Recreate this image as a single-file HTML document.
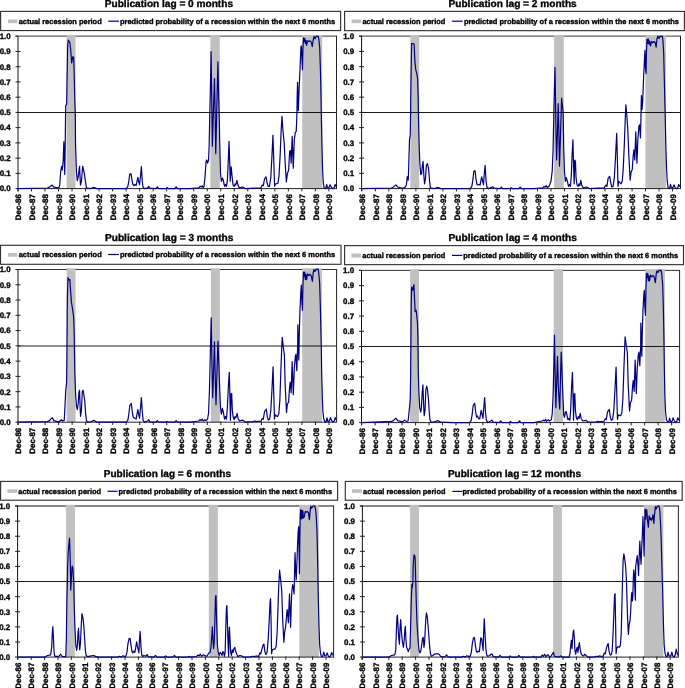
<!DOCTYPE html>
<html lang="en"><head><meta charset="utf-8"><title>Recession probability by publication lag</title>
<style>html,body{margin:0;padding:0;background:#fff}body{width:685px;height:688px;overflow:hidden}svg{display:block;text-rendering:geometricPrecision}text{font-family:"Liberation Sans", sans-serif;font-weight:bold;fill:#000;stroke:#000;stroke-width:.35px}.t{font-size:10.1px}.l{font-size:7.45px}.a{font-size:7.9px}.x{font-size:7.95px}</style></head><body>
<svg width="685" height="688" viewBox="0 0 685 688">
<rect width="685" height="688" fill="#fff"/>
<g>
<text class="t" x="104.8" y="7.2" textLength="128.2" lengthAdjust="spacingAndGlyphs">Publication lag = 0 months</text>
<rect x="0.6" y="11.4" width="340" height="19.15" fill="#fff" stroke="#333" stroke-width="1.15"/>
<rect x="7.9" y="19.5" width="9.3" height="3.7" fill="#c0c0c0"/>
<text class="l" x="18.7" y="23.75" textLength="83" lengthAdjust="spacingAndGlyphs">actual recession period</text>
<line x1="108.2" y1="21.2" x2="119" y2="21.2" stroke="#000080" stroke-width="1.2"/>
<text class="l" x="120" y="23.75" textLength="215.1" lengthAdjust="spacingAndGlyphs">predicted probability of a recession within the next 6 months</text>
<line x1="15.5" y1="36.2" x2="336.5" y2="36.2" stroke="#606060" stroke-width="1.3"/>
<rect x="66.6" y="35" width="8.9" height="153.6" fill="#c0c0c0"/>
<rect x="210.4" y="35" width="9.4" height="153.6" fill="#c0c0c0"/>
<rect x="302.2" y="35" width="20" height="153.6" fill="#c0c0c0"/>
<line x1="18" y1="112.5" x2="336.5" y2="112.5" stroke="#000" stroke-width="0.9"/>
<line x1="336.5" y1="35.7" x2="336.5" y2="189" stroke="#222" stroke-width="1"/>
<line x1="18" y1="188.6" x2="336.5" y2="188.6" stroke="#222" stroke-width="1"/>
<polyline fill="none" stroke="#000080" stroke-width="1.2" stroke-linejoin="round" points="18.1,188.6 47.53,188 49.42,187.1 52.18,185.09 53.81,187.1 58.83,188 59.71,185.09 60.72,171.28 61.59,166.26 62.35,170.03 63.23,159.99 63.85,141.78 64.73,174.42 65.24,143.66 65.61,112.28 65.74,105.56 66.62,104.31 66.99,84.22 67.62,46.55 68.25,40.03 69.88,42.79 70.76,50.32 71.64,62.88 72.89,56.6 73.65,57.23 74.15,71.66 74.9,104.31 75.28,112.72 75.53,143.66 76.41,171.28 77.29,180.7 78.29,176.31 79.55,166.26 80.43,185.09 81.43,181.33 82.69,166.26 84.19,172.54 85.45,181.33 86.45,187.8 90.22,188.6 93.99,187.39 96.5,188.6 109.68,188.6 112.51,188.6 126.32,188.6 127.83,186.35 128.83,181.33 129.71,174.05 131.09,173.8 131.97,180.07 132.85,184.47 133.85,185.72 135.11,184.47 136.11,185.35 136.99,181.33 137.87,177.31 138.62,181.33 139.5,184.84 140.51,176.31 141.39,166.51 142.27,181.33 143.02,186.98 144.53,188.6 147.66,187.8 148.67,186.35 149.92,188.21 155.82,188.6 157.33,186.98 158.71,188.6 165.87,188.6 167.12,187.39 168.38,188.6 174.66,188.6 176.16,186.98 177.54,188.6 189.09,188.6 190,188.6 198.79,187.8 200.04,186.35 201.3,186.98 202.18,185.72 203.18,187.8 204.06,186.35 205.07,176.31 206.07,161.24 206.7,159.99 207.58,163.12 208.58,159.99 209.21,143.66 209.84,112.28 210.46,84.22 211.09,51.58 211.72,96.77 212.35,146.18 213.35,112.28 214.48,78.57 215.11,112.28 215.74,153.71 216.74,112.28 217.87,61.87 218.62,96.77 219.13,112.28 219.75,143.66 220.51,173.8 221.39,181.33 222.39,178.19 223.27,180.07 224.53,186.35 225.53,184.47 226.41,186.35 227.29,181.33 228.04,166.26 229.05,141.4 229.92,168.77 230.18,181.33 231.18,166.89 232.06,176.31 233.06,185.09 234.19,186.35 234.95,183.84 235.82,185.09 236.95,180.32 237.96,185.09 239.21,187.8 242.73,186.98 245.24,188.6 255.28,188.21 256,188.21 261.02,187.8 262.28,185.09 263.28,185.72 264.54,178.82 266.04,176.93 267.05,182.58 268.18,186.35 269.43,186.35 270.81,177.56 271.94,156.22 272.95,135.13 273.83,162.5 274.58,186.35 275.46,183.84 276.72,183.59 277.97,183.21 278.98,176.31 280.11,156.22 281.11,131.11 281.99,116.29 282.99,131.11 284.25,143.66 285.13,162.5 286.38,181.96 287.39,173.8 288.64,170.03 289.65,151.2 290.53,150.57 291.15,163.12 292.16,136.38 293.29,168.15 294.29,139.9 295.3,132.36 296.18,131.74 296.68,121.07 296.93,112.28 297.18,96.77 297.56,82.34 298.31,110.58 299.31,84.22 300.19,65.39 300.95,46.55 301.45,45.93 301.95,59.11 302.45,69.78 302.95,49.07 303.46,37.77 304.08,41.53 304.71,38.39 305.34,43.42 305.97,40.28 306.6,45.3 307.47,40.91 308.73,41.53 309.99,40.91 311.24,42.16 312.25,46.55 313.12,40.28 314,36.26 315.13,38.77 316.26,36.13 317.14,36.51 318.15,36.13 318.77,39.02 319.65,46.55 320.28,65.39 320.78,84.22 321.28,112.72 321.91,143.66 322.54,168.77 323.17,181.33 324.05,187.8 325.68,188.6 326.68,184.47 327.56,187.8 328.82,187.8 330.07,184.84 331.08,186.98 332.58,188.6 334.09,187.8 335.09,184.47 336.1,186.35 336.73,186.35"/>
<line x1="18" y1="35.7" x2="18" y2="191.2" stroke="#333" stroke-width="1.15"/>
<text class="a" x="10.6" y="191.45" text-anchor="end">0.0</text>
<text class="a" x="10.6" y="176.21" text-anchor="end">0.1</text>
<text class="a" x="10.6" y="160.97" text-anchor="end">0.2</text>
<text class="a" x="10.6" y="145.73" text-anchor="end">0.3</text>
<text class="a" x="10.6" y="130.49" text-anchor="end">0.4</text>
<text class="a" x="10.6" y="115.25" text-anchor="end">0.5</text>
<text class="a" x="10.6" y="100.01" text-anchor="end">0.6</text>
<text class="a" x="10.6" y="84.77" text-anchor="end">0.7</text>
<text class="a" x="10.6" y="69.53" text-anchor="end">0.8</text>
<text class="a" x="10.6" y="54.29" text-anchor="end">0.9</text>
<text class="a" x="10.6" y="39.05" text-anchor="end">1.0</text>
<text class="x" text-anchor="end" transform="translate(21.2 194.1) rotate(-90)">Dec-86</text>
<text class="x" text-anchor="end" transform="translate(34.72 194.1) rotate(-90)">Dec-87</text>
<text class="x" text-anchor="end" transform="translate(48.24 194.1) rotate(-90)">Dec-88</text>
<text class="x" text-anchor="end" transform="translate(61.76 194.1) rotate(-90)">Dec-89</text>
<text class="x" text-anchor="end" transform="translate(75.28 194.1) rotate(-90)">Dec-90</text>
<text class="x" text-anchor="end" transform="translate(88.8 194.1) rotate(-90)">Dec-91</text>
<text class="x" text-anchor="end" transform="translate(102.32 194.1) rotate(-90)">Dec-92</text>
<text class="x" text-anchor="end" transform="translate(115.84 194.1) rotate(-90)">Dec-93</text>
<text class="x" text-anchor="end" transform="translate(129.36 194.1) rotate(-90)">Dec-94</text>
<text class="x" text-anchor="end" transform="translate(142.88 194.1) rotate(-90)">Dec-95</text>
<text class="x" text-anchor="end" transform="translate(156.4 194.1) rotate(-90)">Dec-96</text>
<text class="x" text-anchor="end" transform="translate(169.92 194.1) rotate(-90)">Dec-97</text>
<text class="x" text-anchor="end" transform="translate(183.44 194.1) rotate(-90)">Dec-98</text>
<text class="x" text-anchor="end" transform="translate(196.96 194.1) rotate(-90)">Dec-99</text>
<text class="x" text-anchor="end" transform="translate(210.48 194.1) rotate(-90)">Dec-00</text>
<text class="x" text-anchor="end" transform="translate(224 194.1) rotate(-90)">Dec-01</text>
<text class="x" text-anchor="end" transform="translate(237.52 194.1) rotate(-90)">Dec-02</text>
<text class="x" text-anchor="end" transform="translate(251.04 194.1) rotate(-90)">Dec-03</text>
<text class="x" text-anchor="end" transform="translate(264.56 194.1) rotate(-90)">Dec-04</text>
<text class="x" text-anchor="end" transform="translate(278.08 194.1) rotate(-90)">Dec-05</text>
<text class="x" text-anchor="end" transform="translate(291.6 194.1) rotate(-90)">Dec-06</text>
<text class="x" text-anchor="end" transform="translate(305.12 194.1) rotate(-90)">Dec-07</text>
<text class="x" text-anchor="end" transform="translate(318.64 194.1) rotate(-90)">Dec-08</text>
<text class="x" text-anchor="end" transform="translate(332.16 194.1) rotate(-90)">Dec-09</text>
<path d="M15.5 188.6H18M15.5 173.36H20.5M15.5 158.12H20.5M15.5 142.88H20.5M15.5 127.64H20.5M15.5 112.4H20.5M15.5 97.16H20.5M15.5 81.92H20.5M15.5 66.68H20.5M15.5 51.44H20.5M15.5 36.2H18M17.95 188V191.4M31.47 188V191.4M44.99 188V191.4M58.51 188V191.4M72.03 188V191.4M85.55 188V191.4M99.07 188V191.4M112.59 188V191.4M126.11 188V191.4M139.63 188V191.4M153.15 188V191.4M166.67 188V191.4M180.19 188V191.4M193.71 188V191.4M207.23 188V191.4M220.75 188V191.4M234.27 188V191.4M247.79 188V191.4M261.31 188V191.4M274.83 188V191.4M288.35 188V191.4M301.87 188V191.4M315.39 188V191.4M328.91 188V191.4" stroke="#222" stroke-width="1" fill="none"/>
</g>
<g>
<text class="t" x="448.5" y="7.2" textLength="128.2" lengthAdjust="spacingAndGlyphs">Publication lag = 2 months</text>
<rect x="344.6" y="11.4" width="339.8" height="19.25" fill="#fff" stroke="#333" stroke-width="1.15"/>
<rect x="351.6" y="19.5" width="9.3" height="3.7" fill="#c0c0c0"/>
<text class="l" x="362.4" y="23.75" textLength="83" lengthAdjust="spacingAndGlyphs">actual recession period</text>
<line x1="451.9" y1="21.2" x2="462.7" y2="21.2" stroke="#000080" stroke-width="1.2"/>
<text class="l" x="463.9" y="23.75" textLength="215.1" lengthAdjust="spacingAndGlyphs">predicted probability of a recession within the next 6 months</text>
<line x1="359.1" y1="36.2" x2="680.5" y2="36.2" stroke="#606060" stroke-width="1.3"/>
<rect x="410.4" y="35" width="8.8" height="153.6" fill="#c0c0c0"/>
<rect x="554.1" y="35" width="9.7" height="153.6" fill="#c0c0c0"/>
<rect x="645.4" y="35" width="20.5" height="153.6" fill="#c0c0c0"/>
<line x1="361.6" y1="112.5" x2="680.5" y2="112.5" stroke="#000" stroke-width="0.9"/>
<line x1="680.5" y1="35.7" x2="680.5" y2="189" stroke="#222" stroke-width="1"/>
<line x1="361.6" y1="188.6" x2="680.5" y2="188.6" stroke="#222" stroke-width="1"/>
<polyline fill="none" stroke="#000080" stroke-width="1.2" stroke-linejoin="round" points="361.7,188.6 391.53,188 393.42,186.98 395.93,184.84 397.56,186.98 402.83,188.21 405.34,186.98 406.35,185.09 407.23,176.93 407.85,176.31 408.23,180.07 408.73,166.26 409.49,139.9 410.24,134.88 410.62,112.28 410.74,96.77 411.12,71.66 411.62,43.42 414.13,44.04 414.76,59.11 415.64,69.15 416.89,74.18 417.65,79.2 418.15,96.77 418.4,112.72 418.9,137.39 419.78,162.5 420.79,174.42 421.66,173.8 422.42,165.01 423.05,161.24 423.92,176.31 424.55,183.84 425.43,178.82 426.44,165.01 427.56,163.75 428.57,168.77 429.45,180.07 430.45,187.8 434.22,188.6 437.99,187.39 440.5,188.6 453.68,188.6 456.51,188.6 470.32,188.6 471.83,186.35 472.83,180.07 473.84,171.28 475.09,170.66 475.97,178.82 476.98,184.47 478.11,185.09 479.11,184.47 480.11,185.09 480.99,180.07 481.75,176.93 482.62,181.33 483.5,184.84 484.26,173.8 485.14,165.26 486.01,180.07 486.89,186.98 488.53,188.6 491.66,187.39 492.67,186.6 493.92,188.21 499.82,188.6 501.33,187.23 502.71,188.6 509.87,188.6 511.12,187.8 512.38,188.6 518.66,188.6 520.16,187.23 521.54,188.6 533.09,188.6 534,188.6 542.79,187.8 544.04,186.35 545.05,187.23 546.18,185.72 547.18,187.39 549.07,186.35 550.95,181.33 552.2,171.28 553.08,149.94 553.84,112.28 554.34,90.5 554.97,67.27 555.47,96.77 555.97,131.11 556.6,159.99 557.48,131.11 558.23,103.68 558.86,131.11 559.49,166.26 560.62,131.11 561.62,98.03 563.13,112.28 563.75,149.94 564.51,172.54 565.39,181.33 566.27,177.56 567.27,180.7 568.53,186.35 569.53,184.47 570.41,186.35 571.29,176.31 572.04,156.22 572.92,139.9 573.67,168.77 574.18,183.84 574.8,159.99 575.43,161.24 576.06,177.56 577.06,185.09 578.19,186.35 578.95,183.84 579.82,185.72 580.83,180.32 581.71,185.09 583.21,187.8 586.73,186.98 589.24,188.6 598.66,188.21 599,188.21 604.02,187.8 605.91,185.09 606.91,186.35 608.16,178.19 609.67,176.31 610.68,182.58 611.81,186.98 613.06,186.35 614.32,177.56 615.57,156.22 616.7,133.37 617.46,162.5 617.96,186.35 618.71,181.33 619.97,182.58 620.97,183.84 622.23,181.33 623.23,168.77 624.36,143.66 625.36,116.04 625.87,104.74 626.87,116.04 627.88,131.11 628.88,156.22 630.14,180.07 631.01,172.54 632.27,169.4 633.15,156.22 633.9,149.94 634.78,159.99 635.79,131.74 636.92,163.12 637.92,138.64 638.92,126.09 639.55,124.83 640.43,138.01 640.81,124.83 641.06,112.28 641.18,104.31 641.44,95.52 642.06,109.33 642.69,101.8 643.57,77.94 644.45,59.11 644.95,50.32 645.45,67.9 646.08,73.55 646.46,51.58 647.08,39.02 647.71,43.42 648.34,39.02 648.97,44.04 649.6,40.91 650.47,45.93 651.48,41.53 652.73,42.79 653.99,41.53 655.25,42.79 656.12,47.18 657,39.02 657.76,36.13 659.01,38.39 660.14,36.13 661.4,36.51 662.4,36.13 663.03,41.53 663.66,52.83 664.28,77.94 664.91,104.31 665.16,112.72 665.79,143.66 666.54,168.77 667.17,180.07 668.05,187.8 669.31,188.6 670.56,184.47 671.44,187.8 672.82,187.8 673.95,184.84 674.96,187.39 676.21,188.6 677.72,187.8 678.72,184.47 679.73,186.35 680.61,185.72"/>
<line x1="361.6" y1="35.7" x2="361.6" y2="191.2" stroke="#111" stroke-width="1"/>
<text class="a" x="354.2" y="191.45" text-anchor="end">0.0</text>
<text class="a" x="354.2" y="176.21" text-anchor="end">0.1</text>
<text class="a" x="354.2" y="160.97" text-anchor="end">0.2</text>
<text class="a" x="354.2" y="145.73" text-anchor="end">0.3</text>
<text class="a" x="354.2" y="130.49" text-anchor="end">0.4</text>
<text class="a" x="354.2" y="115.25" text-anchor="end">0.5</text>
<text class="a" x="354.2" y="100.01" text-anchor="end">0.6</text>
<text class="a" x="354.2" y="84.77" text-anchor="end">0.7</text>
<text class="a" x="354.2" y="69.53" text-anchor="end">0.8</text>
<text class="a" x="354.2" y="54.29" text-anchor="end">0.9</text>
<text class="a" x="354.2" y="39.05" text-anchor="end">1.0</text>
<text class="x" text-anchor="end" transform="translate(365.1 194.1) rotate(-90)">Dec-86</text>
<text class="x" text-anchor="end" transform="translate(378.61 194.1) rotate(-90)">Dec-87</text>
<text class="x" text-anchor="end" transform="translate(392.12 194.1) rotate(-90)">Dec-88</text>
<text class="x" text-anchor="end" transform="translate(405.63 194.1) rotate(-90)">Dec-89</text>
<text class="x" text-anchor="end" transform="translate(419.14 194.1) rotate(-90)">Dec-90</text>
<text class="x" text-anchor="end" transform="translate(432.65 194.1) rotate(-90)">Dec-91</text>
<text class="x" text-anchor="end" transform="translate(446.16 194.1) rotate(-90)">Dec-92</text>
<text class="x" text-anchor="end" transform="translate(459.67 194.1) rotate(-90)">Dec-93</text>
<text class="x" text-anchor="end" transform="translate(473.18 194.1) rotate(-90)">Dec-94</text>
<text class="x" text-anchor="end" transform="translate(486.69 194.1) rotate(-90)">Dec-95</text>
<text class="x" text-anchor="end" transform="translate(500.2 194.1) rotate(-90)">Dec-96</text>
<text class="x" text-anchor="end" transform="translate(513.71 194.1) rotate(-90)">Dec-97</text>
<text class="x" text-anchor="end" transform="translate(527.22 194.1) rotate(-90)">Dec-98</text>
<text class="x" text-anchor="end" transform="translate(540.73 194.1) rotate(-90)">Dec-99</text>
<text class="x" text-anchor="end" transform="translate(554.24 194.1) rotate(-90)">Dec-00</text>
<text class="x" text-anchor="end" transform="translate(567.75 194.1) rotate(-90)">Dec-01</text>
<text class="x" text-anchor="end" transform="translate(581.26 194.1) rotate(-90)">Dec-02</text>
<text class="x" text-anchor="end" transform="translate(594.77 194.1) rotate(-90)">Dec-03</text>
<text class="x" text-anchor="end" transform="translate(608.28 194.1) rotate(-90)">Dec-04</text>
<text class="x" text-anchor="end" transform="translate(621.79 194.1) rotate(-90)">Dec-05</text>
<text class="x" text-anchor="end" transform="translate(635.3 194.1) rotate(-90)">Dec-06</text>
<text class="x" text-anchor="end" transform="translate(648.81 194.1) rotate(-90)">Dec-07</text>
<text class="x" text-anchor="end" transform="translate(662.32 194.1) rotate(-90)">Dec-08</text>
<text class="x" text-anchor="end" transform="translate(675.83 194.1) rotate(-90)">Dec-09</text>
<path d="M359.1 188.6H361.6M359.1 173.36H364.1M359.1 158.12H364.1M359.1 142.88H364.1M359.1 127.64H364.1M359.1 112.4H364.1M359.1 97.16H364.1M359.1 81.92H364.1M359.1 66.68H364.1M359.1 51.44H364.1M359.1 36.2H361.6M361.85 188V191.4M375.36 188V191.4M388.87 188V191.4M402.38 188V191.4M415.89 188V191.4M429.4 188V191.4M442.91 188V191.4M456.42 188V191.4M469.93 188V191.4M483.44 188V191.4M496.95 188V191.4M510.46 188V191.4M523.97 188V191.4M537.48 188V191.4M550.99 188V191.4M564.5 188V191.4M578.01 188V191.4M591.52 188V191.4M605.03 188V191.4M618.54 188V191.4M632.05 188V191.4M645.56 188V191.4M659.07 188V191.4M672.58 188V191.4" stroke="#222" stroke-width="1" fill="none"/>
</g>
<g>
<text class="t" x="105" y="240.6" textLength="128.3" lengthAdjust="spacingAndGlyphs">Publication lag = 3 months</text>
<rect x="0.5" y="245.3" width="340.5" height="19" fill="#fff" stroke="#333" stroke-width="1.15"/>
<rect x="7.9" y="252.9" width="9.3" height="3.8" fill="#c0c0c0"/>
<text class="l" x="18.7" y="257" textLength="83" lengthAdjust="spacingAndGlyphs">actual recession period</text>
<line x1="108.2" y1="254.5" x2="119" y2="254.5" stroke="#000080" stroke-width="1.2"/>
<text class="l" x="120" y="257" textLength="215.2" lengthAdjust="spacingAndGlyphs">predicted probability of a recession within the next 6 months</text>
<line x1="15.5" y1="269.5" x2="336.6" y2="269.5" stroke="#333" stroke-width="1"/>
<rect x="66.6" y="268.3" width="8.9" height="153.9" fill="#c0c0c0"/>
<rect x="210.9" y="268.3" width="9" height="153.9" fill="#c0c0c0"/>
<rect x="302.2" y="268.3" width="19.7" height="153.9" fill="#c0c0c0"/>
<line x1="18" y1="346" x2="336.6" y2="346" stroke="#000" stroke-width="0.9"/>
<line x1="336.6" y1="269" x2="336.6" y2="422.6" stroke="#222" stroke-width="1"/>
<line x1="18" y1="422.2" x2="336.6" y2="422.2" stroke="#222" stroke-width="1"/>
<polyline fill="none" stroke="#000080" stroke-width="1.2" stroke-linejoin="round" points="18.2,422.2 47.53,421.64 49.42,420.6 52.18,417.59 53.81,420.6 58.83,422.05 61.34,419.72 62.6,421.03 64.23,420.35 64.86,409.05 65.74,390.22 66.62,382.69 66.99,346.28 67.12,329.77 67.37,298.39 68,277.67 68.88,280.18 69.88,279.55 70.51,289.6 71.39,302.15 72.64,309.69 73.65,317.22 74.15,332.28 74.4,346.09 74.78,371.39 75.53,392.73 76.41,405.28 77.29,409.68 78.29,402.77 78.92,392.73 79.55,390.22 80.18,409.05 80.55,416.33 81.43,410.31 82.31,391.47 83.06,390.22 83.94,395.24 84.82,401.52 85.57,412.82 86.45,420.35 87.46,422.2 90.22,422.05 93.99,420.35 96.5,422.05 109.68,422.2 112.51,422.2 126.32,422.2 127.83,420.35 128.83,414.07 129.84,405.28 131.34,403.4 132.22,411.56 133.23,417.21 134.23,417.84 135.11,418.47 136.11,419.09 136.99,414.07 137.87,409.68 138.62,414.07 139.5,418.47 140.51,407.8 141.39,397.5 142.27,411.56 143.14,420.35 144.53,422.2 147.66,421.03 148.67,419.72 149.92,422.05 155.82,422.2 157.33,420.6 158.71,422.2 165.87,422.2 167.12,421.43 168.38,422.2 174.66,422.2 176.16,420.6 177.54,422.2 189.09,422.2 190,422.2 198.79,421.03 200.04,419.72 201.05,420.6 202.18,419.09 203.18,421.03 205.07,419.72 206.07,420.6 207.58,419.09 208.58,412.82 209.46,390.22 210.34,352.55 211.22,317.78 211.97,365.11 212.72,397.75 213.6,371.39 214.48,341.88 215.11,371.39 215.99,404.66 216.99,371.39 218,341 218.88,365.11 219.75,390.22 220.51,407.8 221.39,414.07 222.39,408.42 223.27,411.56 224.53,419.09 225.53,416.58 226.41,419.09 227.29,409.05 228.29,387.71 229.3,372.39 229.92,396.5 230.43,420.35 231.05,393.99 231.68,393.36 232.31,410.31 233.31,417.84 234.19,419.72 234.95,416.58 235.82,417.84 237.08,413.45 238.08,418.47 239.59,421.03 242.73,420.1 245.24,422.05 252.77,421.64 255.28,421.03 256,421.64 261.02,421.03 262.28,418.47 263.28,419.35 264.54,411.56 266.29,409.05 267.3,416.58 268.3,420.1 269.56,419.35 270.81,410.31 271.94,390.22 273.07,366.74 273.83,396.5 274.46,419.09 275.21,414.7 276.46,415.96 277.59,416.58 278.85,413.45 279.85,400.26 280.86,371.39 281.74,347.53 282.24,337.24 283.37,347.53 284.37,355.07 285.13,383.94 286.51,412.57 287.39,404.03 288.64,402.15 289.52,387.71 290.27,382.06 291.15,392.73 292.16,361.59 293.29,394.61 294.29,368.88 295.3,356.32 295.92,354.44 296.8,370.76 297.43,352.55 297.68,345.9 297.81,324.75 298.81,360.03 299.44,327.26 299.94,310.94 300.82,292.11 301.32,285.2 301.95,303.41 302.45,310.31 302.95,285.83 303.46,272.02 304.08,276.42 304.71,272.02 305.34,279.55 305.97,274.53 306.6,279.55 307.47,273.91 308.73,275.54 309.99,274.28 311.24,275.79 312.37,281.44 313.12,273.28 313.88,269.51 315.01,271.39 316.01,269.13 317.14,269.51 318.15,269.13 318.77,273.28 319.65,283.32 320.28,304.66 320.91,329.77 321.28,346.09 321.66,371.39 322.29,396.5 322.92,411.56 323.8,419.09 324.8,421.64 326.06,422.05 327.06,417.84 327.94,421.64 329.45,421.03 330.45,417.59 331.58,420.35 332.84,422.2 334.22,421.03 335.22,417.59 336.1,419.72 336.73,419.72"/>
<line x1="18" y1="269" x2="18" y2="424.8" stroke="#333" stroke-width="1.15"/>
<text class="a" x="10.6" y="425.05" text-anchor="end">0.0</text>
<text class="a" x="10.6" y="409.78" text-anchor="end">0.1</text>
<text class="a" x="10.6" y="394.51" text-anchor="end">0.2</text>
<text class="a" x="10.6" y="379.24" text-anchor="end">0.3</text>
<text class="a" x="10.6" y="363.97" text-anchor="end">0.4</text>
<text class="a" x="10.6" y="348.7" text-anchor="end">0.5</text>
<text class="a" x="10.6" y="333.43" text-anchor="end">0.6</text>
<text class="a" x="10.6" y="318.16" text-anchor="end">0.7</text>
<text class="a" x="10.6" y="302.89" text-anchor="end">0.8</text>
<text class="a" x="10.6" y="287.62" text-anchor="end">0.9</text>
<text class="a" x="10.6" y="272.35" text-anchor="end">1.0</text>
<text class="x" text-anchor="end" transform="translate(21.3 427.7) rotate(-90)">Dec-86</text>
<text class="x" text-anchor="end" transform="translate(34.82 427.7) rotate(-90)">Dec-87</text>
<text class="x" text-anchor="end" transform="translate(48.34 427.7) rotate(-90)">Dec-88</text>
<text class="x" text-anchor="end" transform="translate(61.86 427.7) rotate(-90)">Dec-89</text>
<text class="x" text-anchor="end" transform="translate(75.38 427.7) rotate(-90)">Dec-90</text>
<text class="x" text-anchor="end" transform="translate(88.9 427.7) rotate(-90)">Dec-91</text>
<text class="x" text-anchor="end" transform="translate(102.42 427.7) rotate(-90)">Dec-92</text>
<text class="x" text-anchor="end" transform="translate(115.94 427.7) rotate(-90)">Dec-93</text>
<text class="x" text-anchor="end" transform="translate(129.46 427.7) rotate(-90)">Dec-94</text>
<text class="x" text-anchor="end" transform="translate(142.98 427.7) rotate(-90)">Dec-95</text>
<text class="x" text-anchor="end" transform="translate(156.5 427.7) rotate(-90)">Dec-96</text>
<text class="x" text-anchor="end" transform="translate(170.02 427.7) rotate(-90)">Dec-97</text>
<text class="x" text-anchor="end" transform="translate(183.54 427.7) rotate(-90)">Dec-98</text>
<text class="x" text-anchor="end" transform="translate(197.06 427.7) rotate(-90)">Dec-99</text>
<text class="x" text-anchor="end" transform="translate(210.58 427.7) rotate(-90)">Dec-00</text>
<text class="x" text-anchor="end" transform="translate(224.1 427.7) rotate(-90)">Dec-01</text>
<text class="x" text-anchor="end" transform="translate(237.62 427.7) rotate(-90)">Dec-02</text>
<text class="x" text-anchor="end" transform="translate(251.14 427.7) rotate(-90)">Dec-03</text>
<text class="x" text-anchor="end" transform="translate(264.66 427.7) rotate(-90)">Dec-04</text>
<text class="x" text-anchor="end" transform="translate(278.18 427.7) rotate(-90)">Dec-05</text>
<text class="x" text-anchor="end" transform="translate(291.7 427.7) rotate(-90)">Dec-06</text>
<text class="x" text-anchor="end" transform="translate(305.22 427.7) rotate(-90)">Dec-07</text>
<text class="x" text-anchor="end" transform="translate(318.74 427.7) rotate(-90)">Dec-08</text>
<text class="x" text-anchor="end" transform="translate(332.26 427.7) rotate(-90)">Dec-09</text>
<path d="M15.5 422.2H18M15.5 406.93H20.5M15.5 391.66H20.5M15.5 376.39H20.5M15.5 361.12H20.5M15.5 345.85H20.5M15.5 330.58H20.5M15.5 315.31H20.5M15.5 300.04H20.5M15.5 284.77H20.5M15.5 269.5H18M18.05 421.6V425M31.57 421.6V425M45.09 421.6V425M58.61 421.6V425M72.13 421.6V425M85.65 421.6V425M99.17 421.6V425M112.69 421.6V425M126.21 421.6V425M139.73 421.6V425M153.25 421.6V425M166.77 421.6V425M180.29 421.6V425M193.81 421.6V425M207.33 421.6V425M220.85 421.6V425M234.37 421.6V425M247.89 421.6V425M261.41 421.6V425M274.93 421.6V425M288.45 421.6V425M301.97 421.6V425M315.49 421.6V425M329.01 421.6V425" stroke="#222" stroke-width="1" fill="none"/>
</g>
<g>
<text class="t" x="448.6" y="241.3" textLength="128.3" lengthAdjust="spacingAndGlyphs">Publication lag = 4 months</text>
<rect x="344.6" y="245.6" width="338.9" height="19.05" fill="#fff" stroke="#333" stroke-width="1.15"/>
<rect x="351.4" y="253.5" width="9.6" height="4" fill="#c0c0c0"/>
<text class="l" x="362.3" y="257.7" textLength="83" lengthAdjust="spacingAndGlyphs">actual recession period</text>
<line x1="452" y1="255.4" x2="462.4" y2="255.4" stroke="#000080" stroke-width="1.2"/>
<text class="l" x="463.2" y="257.7" textLength="215" lengthAdjust="spacingAndGlyphs">predicted probability of a recession within the next 6 months</text>
<line x1="359" y1="270.4" x2="679.6" y2="270.4" stroke="#333" stroke-width="1"/>
<rect x="410.1" y="269.2" width="8.8" height="153.4" fill="#c0c0c0"/>
<rect x="553.7" y="269.2" width="9.4" height="153.4" fill="#c0c0c0"/>
<rect x="645.2" y="269.2" width="19.7" height="153.4" fill="#c0c0c0"/>
<line x1="361.5" y1="346.5" x2="679.6" y2="346.5" stroke="#000" stroke-width="0.9"/>
<line x1="679.6" y1="269.9" x2="679.6" y2="423" stroke="#222" stroke-width="1"/>
<line x1="361.5" y1="422.6" x2="679.6" y2="422.6" stroke="#222" stroke-width="1"/>
<polyline fill="none" stroke="#000080" stroke-width="1.2" stroke-linejoin="round" points="361.7,422.6 391.53,421.39 393.42,420.6 395.93,418.09 397.56,420.6 402.83,421.8 404.72,420.1 406.35,421.39 408.11,420.98 408.86,414.07 409.74,405.28 410.24,399.01 410.62,377.66 410.87,346.28 410.99,329.77 411.24,304.66 411.62,287.09 412.62,290.23 413.88,284.58 414.51,298.39 415.14,311.57 416.14,310.31 416.89,317.22 417.52,323.5 417.9,337.31 418.02,346.47 418.27,371.39 418.9,392.73 419.78,407.8 420.66,412.19 421.41,407.8 422.17,392.73 422.92,384.82 423.55,402.77 424.18,415.71 425.05,410.31 425.81,390.22 426.69,386.2 427.56,390.22 428.44,399.01 429.2,411.56 429.95,419.72 431.08,422.21 434.22,421.8 437.99,420.6 440.5,422.21 453.68,422.6 455.88,422.6 469.69,422.6 471.2,420.35 472.2,414.07 473.21,405.28 474.72,403.4 475.59,411.56 476.6,417.21 477.48,415.96 478.48,418.47 479.74,418.84 480.49,414.07 481.24,410.31 482.12,414.7 483,418.47 483.75,407.8 484.63,397.5 485.51,412.19 486.39,420.35 487.9,422.6 490.79,420.98 492.04,420.1 493.3,422.21 499.2,422.6 500.7,420.98 502.08,422.6 509.24,422.6 510.5,421.39 511.75,422.6 518.03,422.6 519.54,420.98 520.92,422.6 533.09,422.6 534,422.6 542.16,420.98 543.42,420.1 544.42,420.98 545.55,419.35 546.55,421.39 548.44,419.72 549.44,420.98 551.33,419.72 552.2,414.07 553.08,396.5 553.84,365.11 554.46,334.98 555.09,371.39 555.85,407.8 556.6,383.94 557.48,356.32 558.23,383.94 558.86,396.5 559.74,409.05 560.49,377.66 561.24,352.18 562,371.39 562.88,396.5 563.75,415.33 564.51,417.21 565.39,412.19 566.27,411.56 567.02,415.33 567.9,419.72 568.9,418.47 569.78,420.35 570.66,410.31 571.54,387.71 572.42,372.39 573.05,396.5 573.55,420.35 574.18,393.99 574.8,393.73 575.43,410.31 576.44,418.47 577.44,419.72 578.19,416.58 579.2,418.47 580.2,413.45 581.21,418.47 582.71,420.98 585.85,420.35 588.36,422.21 596.15,421.8 598.66,421.23 599,421.8 604.02,421.23 605.28,418.72 606.28,419.6 607.54,411.81 609.29,409.3 610.3,416.84 611.3,420.35 612.56,419.6 613.81,410.31 614.94,390.22 616.07,366.99 616.83,396.5 617.46,419.35 618.21,414.95 619.46,415.33 620.59,415.71 621.85,412.82 622.85,399.01 623.86,370.13 624.74,346.28 625.11,336.74 626.37,346.28 627.37,352.55 628.13,382.69 629.51,410.93 630.39,402.77 631.64,400.26 632.52,386.45 633.27,380.43 634.15,391.47 635.16,360.09 636.29,393.36 637.29,367.62 638.3,355.07 638.92,352.18 639.8,365.74 640.43,351.3 640.68,346.28 640.81,323.12 641.81,356.26 642.44,327.26 642.94,310.94 643.82,294.62 644.32,290.23 644.95,308.43 645.45,315.34 645.95,289.6 646.46,273.28 647.08,277.67 647.71,273.28 648.34,280.81 648.97,275.79 649.6,280.81 650.47,275.16 651.73,276.79 652.99,275.54 654.24,277.04 655.37,282.69 656.12,274.53 656.88,270.77 658.01,272.65 659.01,270.14 660.14,270.77 661.15,270.14 661.77,274.53 662.65,284.58 663.28,304.66 663.78,329.77 664.03,346.47 664.41,371.39 664.91,396.5 665.54,411.56 666.42,419.72 667.42,421.8 668.68,422.21 669.68,418.09 670.56,421.8 672.07,421.23 673.07,417.84 674.2,420.6 675.46,422.6 676.84,421.23 677.84,417.84 678.72,419.97 679.73,419.97"/>
<line x1="361.5" y1="269.9" x2="361.5" y2="425.2" stroke="#111" stroke-width="1"/>
<text class="a" x="354.1" y="425.45" text-anchor="end">0.0</text>
<text class="a" x="354.1" y="410.23" text-anchor="end">0.1</text>
<text class="a" x="354.1" y="395.01" text-anchor="end">0.2</text>
<text class="a" x="354.1" y="379.79" text-anchor="end">0.3</text>
<text class="a" x="354.1" y="364.57" text-anchor="end">0.4</text>
<text class="a" x="354.1" y="349.35" text-anchor="end">0.5</text>
<text class="a" x="354.1" y="334.13" text-anchor="end">0.6</text>
<text class="a" x="354.1" y="318.91" text-anchor="end">0.7</text>
<text class="a" x="354.1" y="303.69" text-anchor="end">0.8</text>
<text class="a" x="354.1" y="288.47" text-anchor="end">0.9</text>
<text class="a" x="354.1" y="273.25" text-anchor="end">1.0</text>
<text class="x" text-anchor="end" transform="translate(364.9 428.1) rotate(-90)">Dec-86</text>
<text class="x" text-anchor="end" transform="translate(378.38 428.1) rotate(-90)">Dec-87</text>
<text class="x" text-anchor="end" transform="translate(391.85 428.1) rotate(-90)">Dec-88</text>
<text class="x" text-anchor="end" transform="translate(405.33 428.1) rotate(-90)">Dec-89</text>
<text class="x" text-anchor="end" transform="translate(418.8 428.1) rotate(-90)">Dec-90</text>
<text class="x" text-anchor="end" transform="translate(432.28 428.1) rotate(-90)">Dec-91</text>
<text class="x" text-anchor="end" transform="translate(445.76 428.1) rotate(-90)">Dec-92</text>
<text class="x" text-anchor="end" transform="translate(459.23 428.1) rotate(-90)">Dec-93</text>
<text class="x" text-anchor="end" transform="translate(472.71 428.1) rotate(-90)">Dec-94</text>
<text class="x" text-anchor="end" transform="translate(486.18 428.1) rotate(-90)">Dec-95</text>
<text class="x" text-anchor="end" transform="translate(499.66 428.1) rotate(-90)">Dec-96</text>
<text class="x" text-anchor="end" transform="translate(513.14 428.1) rotate(-90)">Dec-97</text>
<text class="x" text-anchor="end" transform="translate(526.61 428.1) rotate(-90)">Dec-98</text>
<text class="x" text-anchor="end" transform="translate(540.09 428.1) rotate(-90)">Dec-99</text>
<text class="x" text-anchor="end" transform="translate(553.56 428.1) rotate(-90)">Dec-00</text>
<text class="x" text-anchor="end" transform="translate(567.04 428.1) rotate(-90)">Dec-01</text>
<text class="x" text-anchor="end" transform="translate(580.52 428.1) rotate(-90)">Dec-02</text>
<text class="x" text-anchor="end" transform="translate(593.99 428.1) rotate(-90)">Dec-03</text>
<text class="x" text-anchor="end" transform="translate(607.47 428.1) rotate(-90)">Dec-04</text>
<text class="x" text-anchor="end" transform="translate(620.94 428.1) rotate(-90)">Dec-05</text>
<text class="x" text-anchor="end" transform="translate(634.42 428.1) rotate(-90)">Dec-06</text>
<text class="x" text-anchor="end" transform="translate(647.9 428.1) rotate(-90)">Dec-07</text>
<text class="x" text-anchor="end" transform="translate(661.37 428.1) rotate(-90)">Dec-08</text>
<text class="x" text-anchor="end" transform="translate(674.85 428.1) rotate(-90)">Dec-09</text>
<path d="M359 422.6H361.5M359 407.38H364M359 392.16H364M359 376.94H364M359 361.72H364M359 346.5H364M359 331.28H364M359 316.06H364M359 300.84H364M359 285.62H364M359 270.4H361.5M361.65 422V425.4M375.13 422V425.4M388.6 422V425.4M402.08 422V425.4M415.55 422V425.4M429.03 422V425.4M442.51 422V425.4M455.98 422V425.4M469.46 422V425.4M482.93 422V425.4M496.41 422V425.4M509.89 422V425.4M523.36 422V425.4M536.84 422V425.4M550.31 422V425.4M563.79 422V425.4M577.27 422V425.4M590.74 422V425.4M604.22 422V425.4M617.69 422V425.4M631.17 422V425.4M644.65 422V425.4M658.12 422V425.4M671.6 422V425.4" stroke="#222" stroke-width="1" fill="none"/>
</g>
<g>
<text class="t" x="103.8" y="477.1" textLength="127.2" lengthAdjust="spacingAndGlyphs">Publication lag = 6 months</text>
<rect x="0.6" y="481.4" width="337" height="18.8" fill="#fff" stroke="#333" stroke-width="1.15"/>
<rect x="7.3" y="489.3" width="9.9" height="3.6" fill="#c0c0c0"/>
<text class="l" x="18.3" y="493.6" textLength="82.7" lengthAdjust="spacingAndGlyphs">actual recession period</text>
<line x1="107.5" y1="491.3" x2="117.6" y2="491.3" stroke="#000080" stroke-width="1.2"/>
<text class="l" x="118.6" y="493.6" textLength="213.4" lengthAdjust="spacingAndGlyphs">predicted probability of a recession within the next 6 months</text>
<line x1="15.1" y1="506" x2="333.6" y2="506" stroke="#606060" stroke-width="1.3"/>
<rect x="66.1" y="504.8" width="8.8" height="152.3" fill="#c0c0c0"/>
<rect x="208.8" y="504.8" width="9.1" height="152.3" fill="#c0c0c0"/>
<rect x="299.3" y="504.8" width="19.5" height="152.3" fill="#c0c0c0"/>
<line x1="17.6" y1="581.5" x2="333.6" y2="581.5" stroke="#000" stroke-width="0.9"/>
<line x1="333.6" y1="505.5" x2="333.6" y2="657.5" stroke="#222" stroke-width="1"/>
<line x1="17.6" y1="657.1" x2="333.6" y2="657.1" stroke="#222" stroke-width="1"/>
<polyline fill="none" stroke="#000080" stroke-width="1.2" stroke-linejoin="round" points="18.2,657.1 45.02,657.1 47.53,655.47 50.67,654.84 51.68,647.31 52.3,633.5 52.81,626.59 53.43,637.26 54.06,652.33 54.81,656.28 58.83,656.28 60.72,654.21 61.97,656.28 65.74,656.69 66.36,639.77 66.87,602.11 67.37,581.65 67.62,566.77 68.25,551.71 69.5,538.15 70.13,554.22 70.51,574.31 70.76,590.13 71.39,579.33 72.01,566.77 72.39,566.15 72.89,568.03 73.52,579.33 73.77,581.59 74.15,602.11 74.9,627.22 75.78,644.8 76.66,650.45 77.41,644.8 78.04,632.24 78.54,628.22 79.05,639.77 79.67,649.82 80.43,643.54 81.18,627.22 81.93,613.66 83.06,618.43 83.94,627.22 84.69,639.77 85.45,651.07 86.2,655.47 87.71,656.69 91.47,655.87 93.99,655.47 95.87,656.69 99.01,657.1 109.68,657.1 112.51,657.1 117.53,657.1 119.42,656.28 121.3,657.1 122.55,655.87 125.69,656.69 126.95,652.33 127.95,643.54 129.08,638.52 130.09,638.27 130.97,644.8 131.97,651.7 132.85,652.96 133.85,651.07 134.86,652.33 135.74,647.31 136.62,641.91 137.37,646.05 138.25,649.82 138.88,652.96 139.5,639.77 140.13,631.24 141.01,647.31 141.76,654.84 142.89,656.69 143.9,655.47 145.78,656.28 147.04,654.59 148.29,656.69 153.94,657.1 155.57,655.47 157.08,657.1 163.99,657.1 165.62,655.87 167.12,657.1 172.77,657.1 174.41,655.47 175.91,657.1 187.84,657.1 189.35,656.28 190,657.1 196.28,656.69 197.78,655.09 199.04,655.87 200.29,654.21 201.55,656.28 203.56,654.59 205.07,655.87 206.95,656.28 208.58,653.33 210.09,652.33 210.97,647.31 211.72,637.26 212.35,626.97 212.98,639.77 213.6,648.56 214.23,642.28 214.86,620.94 215.49,597.09 215.99,595.46 216.62,620.94 217.37,644.8 218.25,652.33 219.13,655.47 220.13,652.33 221.14,653.58 222.01,655.47 222.89,651.7 223.65,652.33 224.4,656.28 225.15,652.33 225.78,627.22 226.41,608.39 226.91,605.62 227.54,627.22 228.17,647.31 228.67,656.28 229.05,633.5 229.42,627.22 230.05,639.77 230.68,652.33 231.43,655.47 232.31,649.82 233.06,652.33 233.94,648.56 234.82,647.31 235.57,651.07 236.7,654.21 238.08,656.69 239.59,655.47 241.47,655.87 243.36,657.1 249.01,657.1 252.77,656.28 255.28,656.69 256,655.87 258.51,656.69 259.77,652.96 260.77,653.84 262.03,648.56 263.16,644.8 263.91,644.17 264.79,651.07 265.79,654.59 267.05,652.33 268.18,639.77 269.18,620.94 270.06,602.11 270.56,598.59 271.07,620.94 271.57,653.58 272.32,649.82 273.58,649.19 274.83,649.19 276.09,646.68 277.09,633.5 277.97,608.39 278.85,583.28 279.6,570.22 280.86,581.65 281.74,590.81 282.62,618.43 283.87,642.28 284.62,632.24 285.5,627.85 286.38,618.43 287.14,609.64 287.76,614.66 288.39,622.82 288.89,608.39 289.52,593.95 290.15,614.66 290.65,627.22 291.15,608.39 291.78,592.07 292.66,584.53 293.29,587.04 294.04,593.95 294.42,581.65 294.67,566.77 295.05,552.71 295.55,566.77 296.18,579.96 296.8,566.77 297.43,547.94 298.06,532.88 298.69,526.6 299.06,554.22 299.44,573.68 299.82,541.66 300.19,516.55 300.69,509.65 301.2,519.07 301.7,510.28 302.2,518.44 302.83,510.91 303.46,517.81 304.34,516.55 305.21,511.53 306.22,512.16 307.47,511.53 308.48,512.79 309.36,519.69 310.11,511.53 310.74,506.13 311.62,508.39 312.5,506.51 313.5,506.13 314.76,505.88 315.51,509.02 316.26,516.55 316.89,529.11 317.39,547.94 317.77,566.77 318.02,581.59 318.4,602.11 319.02,627.22 319.65,644.8 320.41,652.33 321.28,656.28 322.54,656.69 323.8,652.08 324.67,655.87 326.06,655.47 327.19,652.96 328.19,655.87 329.45,657.1 330.7,655.47 331.71,652.33 332.58,654.84 333.59,654.84"/>
<line x1="17.6" y1="505.5" x2="17.6" y2="659.7" stroke="#111" stroke-width="1"/>
<text class="a" x="10.2" y="659.95" text-anchor="end">0.0</text>
<text class="a" x="10.2" y="644.84" text-anchor="end">0.1</text>
<text class="a" x="10.2" y="629.73" text-anchor="end">0.2</text>
<text class="a" x="10.2" y="614.62" text-anchor="end">0.3</text>
<text class="a" x="10.2" y="599.51" text-anchor="end">0.4</text>
<text class="a" x="10.2" y="584.4" text-anchor="end">0.5</text>
<text class="a" x="10.2" y="569.29" text-anchor="end">0.6</text>
<text class="a" x="10.2" y="554.18" text-anchor="end">0.7</text>
<text class="a" x="10.2" y="539.07" text-anchor="end">0.8</text>
<text class="a" x="10.2" y="523.96" text-anchor="end">0.9</text>
<text class="a" x="10.2" y="508.85" text-anchor="end">1.0</text>
<text class="x" text-anchor="end" transform="translate(21.05 662.6) rotate(-90)">Dec-86</text>
<text class="x" text-anchor="end" transform="translate(34.45 662.6) rotate(-90)">Dec-87</text>
<text class="x" text-anchor="end" transform="translate(47.85 662.6) rotate(-90)">Dec-88</text>
<text class="x" text-anchor="end" transform="translate(61.25 662.6) rotate(-90)">Dec-89</text>
<text class="x" text-anchor="end" transform="translate(74.65 662.6) rotate(-90)">Dec-90</text>
<text class="x" text-anchor="end" transform="translate(88.05 662.6) rotate(-90)">Dec-91</text>
<text class="x" text-anchor="end" transform="translate(101.45 662.6) rotate(-90)">Dec-92</text>
<text class="x" text-anchor="end" transform="translate(114.85 662.6) rotate(-90)">Dec-93</text>
<text class="x" text-anchor="end" transform="translate(128.25 662.6) rotate(-90)">Dec-94</text>
<text class="x" text-anchor="end" transform="translate(141.65 662.6) rotate(-90)">Dec-95</text>
<text class="x" text-anchor="end" transform="translate(155.05 662.6) rotate(-90)">Dec-96</text>
<text class="x" text-anchor="end" transform="translate(168.45 662.6) rotate(-90)">Dec-97</text>
<text class="x" text-anchor="end" transform="translate(181.85 662.6) rotate(-90)">Dec-98</text>
<text class="x" text-anchor="end" transform="translate(195.25 662.6) rotate(-90)">Dec-99</text>
<text class="x" text-anchor="end" transform="translate(208.65 662.6) rotate(-90)">Dec-00</text>
<text class="x" text-anchor="end" transform="translate(222.05 662.6) rotate(-90)">Dec-01</text>
<text class="x" text-anchor="end" transform="translate(235.45 662.6) rotate(-90)">Dec-02</text>
<text class="x" text-anchor="end" transform="translate(248.85 662.6) rotate(-90)">Dec-03</text>
<text class="x" text-anchor="end" transform="translate(262.25 662.6) rotate(-90)">Dec-04</text>
<text class="x" text-anchor="end" transform="translate(275.65 662.6) rotate(-90)">Dec-05</text>
<text class="x" text-anchor="end" transform="translate(289.05 662.6) rotate(-90)">Dec-06</text>
<text class="x" text-anchor="end" transform="translate(302.45 662.6) rotate(-90)">Dec-07</text>
<text class="x" text-anchor="end" transform="translate(315.85 662.6) rotate(-90)">Dec-08</text>
<text class="x" text-anchor="end" transform="translate(329.25 662.6) rotate(-90)">Dec-09</text>
<path d="M15.1 657.1H17.6M15.1 641.99H20.1M15.1 626.88H20.1M15.1 611.77H20.1M15.1 596.66H20.1M15.1 581.55H20.1M15.1 566.44H20.1M15.1 551.33H20.1M15.1 536.22H20.1M15.1 521.11H20.1M15.1 506H17.6M17.8 656.5V659.9M31.2 656.5V659.9M44.6 656.5V659.9M58 656.5V659.9M71.4 656.5V659.9M84.8 656.5V659.9M98.2 656.5V659.9M111.6 656.5V659.9M125 656.5V659.9M138.4 656.5V659.9M151.8 656.5V659.9M165.2 656.5V659.9M178.6 656.5V659.9M192 656.5V659.9M205.4 656.5V659.9M218.8 656.5V659.9M232.2 656.5V659.9M245.6 656.5V659.9M259 656.5V659.9M272.4 656.5V659.9M285.8 656.5V659.9M299.2 656.5V659.9M312.6 656.5V659.9M326 656.5V659.9" stroke="#222" stroke-width="1" fill="none"/>
</g>
<g>
<text class="t" x="447.9" y="477.2" textLength="133.1" lengthAdjust="spacingAndGlyphs">Publication lag = 12 months</text>
<rect x="345.3" y="481.4" width="336.9" height="18.85" fill="#fff" stroke="#333" stroke-width="1.15"/>
<rect x="352" y="489.2" width="9.8" height="3.7" fill="#c0c0c0"/>
<text class="l" x="363.1" y="493.6" textLength="82.3" lengthAdjust="spacingAndGlyphs">actual recession period</text>
<line x1="452.4" y1="491.4" x2="462.3" y2="491.4" stroke="#000080" stroke-width="1.2"/>
<text class="l" x="462.6" y="493.6" textLength="214.2" lengthAdjust="spacingAndGlyphs">predicted probability of a recession within the next 6 months</text>
<line x1="359.9" y1="506" x2="678.4" y2="506" stroke="#606060" stroke-width="1.3"/>
<rect x="410.1" y="504.8" width="8.8" height="152.3" fill="#c0c0c0"/>
<rect x="553.1" y="504.8" width="8.8" height="152.3" fill="#c0c0c0"/>
<rect x="644" y="504.8" width="19.4" height="152.3" fill="#c0c0c0"/>
<line x1="362.4" y1="581.5" x2="678.4" y2="581.5" stroke="#000" stroke-width="0.9"/>
<line x1="678.4" y1="505.5" x2="678.4" y2="657.5" stroke="#222" stroke-width="1"/>
<line x1="362.4" y1="657.1" x2="678.4" y2="657.1" stroke="#222" stroke-width="1"/>
<polyline fill="none" stroke="#000080" stroke-width="1.2" stroke-linejoin="round" points="362.4,657.1 389.02,657.1 391.53,655.47 394.67,654.84 395.68,651.07 396.3,633.5 396.93,617.18 397.43,615.04 398.06,627.22 398.69,637.26 399.44,644.17 400.07,627.22 400.7,619.69 401.58,633.5 402.46,642.28 403.46,647.31 404.21,639.77 404.84,629.73 405.34,626.34 405.97,639.77 406.6,647.31 407.48,649.19 408.23,651.7 409.11,649.19 409.99,647.93 410.62,627.22 411.24,602.11 411.87,584.53 412.37,587.67 412.88,581.65 413.13,566.77 413.88,555.47 414.38,554.85 415.14,557.99 415.64,579.33 415.76,581.59 416.27,602.11 417.02,623.45 417.9,637.26 418.9,649.82 419.78,652.96 420.79,651.07 421.66,644.8 422.54,638.52 423.17,637.26 423.92,647.31 424.55,643.54 425.18,630.99 425.81,618.43 426.44,612.78 427.31,617.18 428.19,627.22 428.95,637.26 429.7,647.31 430.45,653.58 431.33,656.28 432.96,655.47 434.22,654.21 436.1,653.84 437.99,653.84 439.24,654.21 440.5,656.28 443.01,657.1 445.52,656.28 446.52,654.84 447.78,656.69 450.54,657.1 453.68,657.1 456.51,657.1 461.53,657.1 463.42,656.28 465.3,657.1 466.55,655.87 470.07,656.69 471.33,652.33 472.33,643.54 473.46,637.89 474.46,637.51 475.34,644.8 476.35,651.07 477.23,652.33 478.23,651.07 479.36,651.7 480.11,644.8 480.74,637.89 481.62,638.52 482.37,644.8 483.13,650.45 483.63,633.5 484.26,618.81 485.01,633.5 485.76,647.31 486.64,654.84 487.9,656.28 489.78,655.47 491.04,654.21 492.29,654.21 493.3,656.69 498.57,657.1 500.08,655.47 501.46,657.1 508.61,657.1 510.12,655.87 511.5,657.1 517.4,657.1 518.91,655.47 520.29,657.1 532.47,657.1 533.72,656.28 534,657.1 540.91,657.1 542.16,655.09 543.42,656.28 544.67,654.21 545.93,656.69 547.81,654.59 549.32,656.69 550.95,656.28 552.58,653.58 553.46,652.33 554.34,656.28 559.11,657.1 560.99,655.87 562.25,657.1 569.15,657.1 570.16,652.33 570.79,644.8 571.41,640.4 572.04,648.56 572.54,639.77 573.17,632.24 573.67,629.98 574.3,637.26 574.93,649.82 575.68,654.21 576.44,649.82 577.31,647.31 577.94,652.33 578.57,647.31 579.32,642.54 580.08,648.56 581.08,653.58 582.34,655.47 583.59,655.87 584.85,654.21 586.1,655.47 587.99,657.1 593.01,657.1 596.77,656.28 598.66,656.69 599,655.87 602.14,656.69 603.39,655.87 604.27,652.96 605.28,653.84 606.28,648.56 607.41,644.8 608.16,643.54 609.04,651.07 610.05,654.84 611.18,654.84 612.18,651.07 613.06,633.5 613.81,614.66 614.57,594.58 615.07,593.7 615.57,620.94 616.07,653.58 616.7,648.56 617.83,646.68 619.09,647.31 620.34,645.42 621.22,633.5 621.98,602.11 622.48,581.65 622.6,579.33 623.11,560.5 623.86,553.97 624.74,559.24 625.62,566.77 626.37,579.33 626.49,581.59 626.87,595.83 627.62,618.43 628.38,634.5 629.13,624.71 630.01,620.94 630.64,612.15 631.27,598.34 631.77,592.69 632.4,600.85 632.9,595.83 633.15,584.53 633.27,579.33 633.78,569.91 634.4,574.31 634.91,589.37 635.41,600.17 635.66,566.77 636.41,560.5 637.29,555.73 637.92,564.26 638.55,575.56 639.18,556.73 639.8,541.04 640.43,554.22 641.06,564.26 641.69,547.94 642.31,535.39 642.94,516.55 643.57,535.39 644.07,556.1 644.57,529.11 645.08,509.02 645.7,519.07 646.21,509.65 646.83,510.28 647.46,520.32 648.34,527.23 649.09,515.93 649.85,519.69 650.6,517.81 651.35,520.32 652.11,519.07 652.99,514.67 653.86,523.46 654.62,514.04 655.37,506.51 656.25,509.02 657,506.51 658.01,506.13 659.01,505.88 659.76,510.28 660.52,522.83 661.15,539.15 661.77,560.5 662.28,579.33 662.4,581.59 662.9,602.11 663.53,627.22 664.16,644.8 664.91,652.33 665.92,656.28 667.17,656.69 668.05,652.08 668.93,655.87 670.19,656.28 670.94,655.47 671.82,652.08 672.7,655.87 673.95,657.1 675.21,654.84 676.21,649.19 676.96,652.33 677.72,655.47"/>
<line x1="362.4" y1="505.5" x2="362.4" y2="659.7" stroke="#111" stroke-width="1"/>
<text class="a" x="355" y="659.95" text-anchor="end">0.0</text>
<text class="a" x="355" y="644.84" text-anchor="end">0.1</text>
<text class="a" x="355" y="629.73" text-anchor="end">0.2</text>
<text class="a" x="355" y="614.62" text-anchor="end">0.3</text>
<text class="a" x="355" y="599.51" text-anchor="end">0.4</text>
<text class="a" x="355" y="584.4" text-anchor="end">0.5</text>
<text class="a" x="355" y="569.29" text-anchor="end">0.6</text>
<text class="a" x="355" y="554.18" text-anchor="end">0.7</text>
<text class="a" x="355" y="539.07" text-anchor="end">0.8</text>
<text class="a" x="355" y="523.96" text-anchor="end">0.9</text>
<text class="a" x="355" y="508.85" text-anchor="end">1.0</text>
<text class="x" text-anchor="end" transform="translate(365.25 662.6) rotate(-90)">Dec-86</text>
<text class="x" text-anchor="end" transform="translate(378.65 662.6) rotate(-90)">Dec-87</text>
<text class="x" text-anchor="end" transform="translate(392.05 662.6) rotate(-90)">Dec-88</text>
<text class="x" text-anchor="end" transform="translate(405.45 662.6) rotate(-90)">Dec-89</text>
<text class="x" text-anchor="end" transform="translate(418.85 662.6) rotate(-90)">Dec-90</text>
<text class="x" text-anchor="end" transform="translate(432.25 662.6) rotate(-90)">Dec-91</text>
<text class="x" text-anchor="end" transform="translate(445.65 662.6) rotate(-90)">Dec-92</text>
<text class="x" text-anchor="end" transform="translate(459.05 662.6) rotate(-90)">Dec-93</text>
<text class="x" text-anchor="end" transform="translate(472.45 662.6) rotate(-90)">Dec-94</text>
<text class="x" text-anchor="end" transform="translate(485.85 662.6) rotate(-90)">Dec-95</text>
<text class="x" text-anchor="end" transform="translate(499.25 662.6) rotate(-90)">Dec-96</text>
<text class="x" text-anchor="end" transform="translate(512.65 662.6) rotate(-90)">Dec-97</text>
<text class="x" text-anchor="end" transform="translate(526.05 662.6) rotate(-90)">Dec-98</text>
<text class="x" text-anchor="end" transform="translate(539.45 662.6) rotate(-90)">Dec-99</text>
<text class="x" text-anchor="end" transform="translate(552.85 662.6) rotate(-90)">Dec-00</text>
<text class="x" text-anchor="end" transform="translate(566.25 662.6) rotate(-90)">Dec-01</text>
<text class="x" text-anchor="end" transform="translate(579.65 662.6) rotate(-90)">Dec-02</text>
<text class="x" text-anchor="end" transform="translate(593.05 662.6) rotate(-90)">Dec-03</text>
<text class="x" text-anchor="end" transform="translate(606.45 662.6) rotate(-90)">Dec-04</text>
<text class="x" text-anchor="end" transform="translate(619.85 662.6) rotate(-90)">Dec-05</text>
<text class="x" text-anchor="end" transform="translate(633.25 662.6) rotate(-90)">Dec-06</text>
<text class="x" text-anchor="end" transform="translate(646.65 662.6) rotate(-90)">Dec-07</text>
<text class="x" text-anchor="end" transform="translate(660.05 662.6) rotate(-90)">Dec-08</text>
<text class="x" text-anchor="end" transform="translate(673.45 662.6) rotate(-90)">Dec-09</text>
<path d="M359.9 657.1H362.4M359.9 641.99H364.9M359.9 626.88H364.9M359.9 611.77H364.9M359.9 596.66H364.9M359.9 581.55H364.9M359.9 566.44H364.9M359.9 551.33H364.9M359.9 536.22H364.9M359.9 521.11H364.9M359.9 506H362.4M362 656.5V659.9M375.4 656.5V659.9M388.8 656.5V659.9M402.2 656.5V659.9M415.6 656.5V659.9M429 656.5V659.9M442.4 656.5V659.9M455.8 656.5V659.9M469.2 656.5V659.9M482.6 656.5V659.9M496 656.5V659.9M509.4 656.5V659.9M522.8 656.5V659.9M536.2 656.5V659.9M549.6 656.5V659.9M563 656.5V659.9M576.4 656.5V659.9M589.8 656.5V659.9M603.2 656.5V659.9M616.6 656.5V659.9M630 656.5V659.9M643.4 656.5V659.9M656.8 656.5V659.9M670.2 656.5V659.9" stroke="#222" stroke-width="1" fill="none"/>
</g>
</svg></body></html>
